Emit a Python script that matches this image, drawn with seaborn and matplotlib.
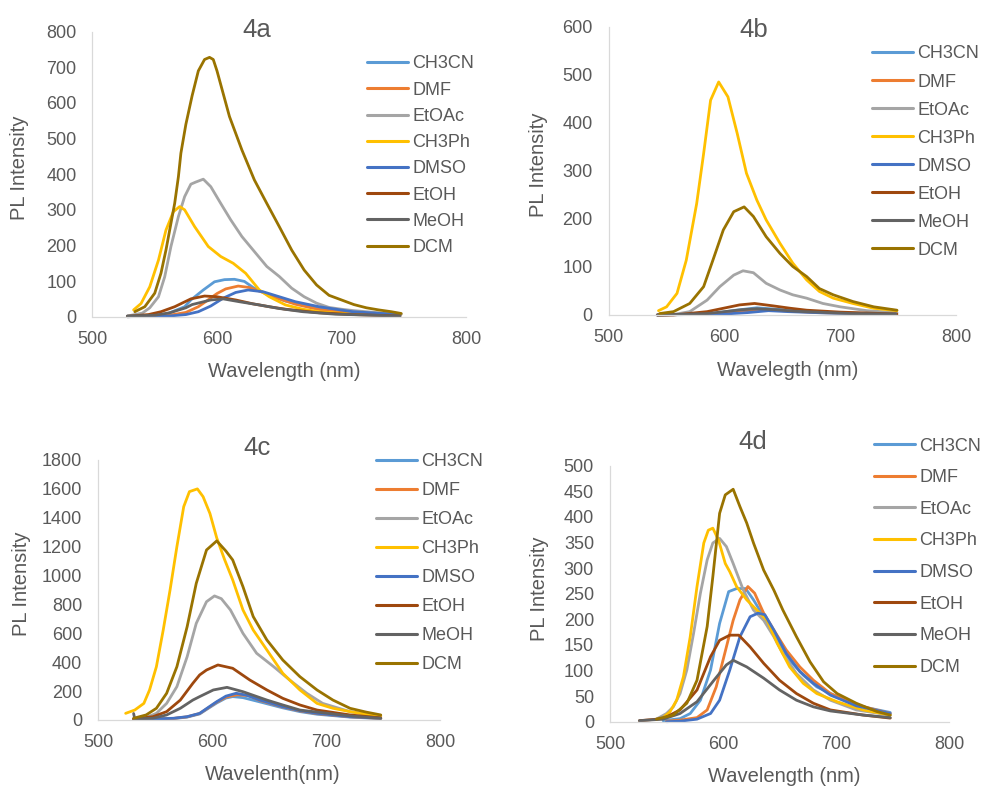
import matplotlib
matplotlib.use("Agg")
import matplotlib.pyplot as plt
import pandas as pd
import seaborn as sns

SOLVENTS = ["CH3CN", "DMF", "EtOAc", "CH3Ph", "DMSO", "EtOH", "MeOH", "DCM"]
COLORS = ["#5B9BD5", "#ED7D31", "#A5A5A5", "#FFC000", "#4472C4", "#9E480E", "#636363", "#997300"]

X_TICKS = [500, 600, 700, 800]

# ---------------- Panel 4a ----------------
A_CH3CN_WL = [528, 545, 560, 574, 579, 589, 598, 606, 614, 622, 629, 642, 655, 669, 682, 695, 709, 735, 747]
A_CH3CN_PL = [0, 2, 8, 28, 47, 75, 98, 104, 105, 99, 82, 60, 44, 33, 23, 17, 11, 6, 5]
A_DMF_WL = [528, 560, 575, 585, 592, 600, 607, 617, 626, 637, 650, 663, 682, 709, 747]
A_DMF_PL = [0, 3, 12, 28, 45, 65, 78, 86, 82, 68, 50, 35, 20, 9, 4]
A_ETOAC_WL = [528, 540, 546, 553, 558, 563, 569, 574, 579, 583, 589, 595, 603, 611, 620, 630, 640, 650, 660, 670, 680, 690, 700, 710, 720, 730, 740, 748]
A_ETOAC_PL = [2, 10, 25, 56, 112, 197, 281, 337, 372, 378, 386, 365, 318, 272, 225, 183, 141, 113, 80, 56, 38, 26, 21, 17, 14, 11, 9, 7]
A_CH3PH_WL = [533, 539, 546, 553, 559, 565, 570, 574, 582, 593, 603, 613, 623, 634, 642, 655, 669, 682, 709, 746]
A_CH3PH_PL = [19, 37, 84, 159, 243, 295, 309, 300, 253, 197, 169, 150, 122, 75, 56, 33, 21, 14, 7, 4]
A_DMSO_WL = [528, 562, 575, 585, 595, 605, 615, 625, 637, 650, 663, 682, 709, 747]
A_DMSO_PL = [0, 2, 6, 14, 30, 52, 68, 75, 70, 56, 42, 28, 14, 6]
A_ETOH_WL = [528, 545, 555, 566, 579, 590, 600, 615, 629, 642, 655, 682, 709, 747]
A_ETOH_PL = [1, 6, 14, 28, 50, 58, 56, 47, 36, 28, 21, 11, 6, 2]
A_MEOH_WL = [528, 550, 562, 575, 580, 595, 605, 618, 634, 650, 669, 695, 747]
A_MEOH_PL = [2, 4, 11, 25, 34, 47, 50, 42, 33, 23, 14, 7, 2]
A_DCM_WL = [534, 542, 550, 555, 559, 563, 566, 569, 571, 575, 580, 585, 590, 594, 597, 600, 610, 620, 630, 640, 650, 660, 670, 680, 690, 700, 710, 720, 730, 740, 748]
A_DCM_PL = [14, 28, 66, 122, 187, 262, 318, 393, 459, 540, 620, 690, 722, 728, 722, 690, 562, 468, 384, 318, 253, 187, 131, 89, 60, 47, 34, 25, 19, 14, 9]

# ---------------- Panel 4b ----------------
B_CH3CN_WL = [542, 590, 610, 628, 645, 665, 690, 748]
B_CH3CN_PL = [0, 3, 10, 15, 12, 8, 5, 2]
B_DMF_WL = [542, 595, 615, 632, 650, 680, 748]
B_DMF_PL = [0, 3, 8, 11, 9, 5, 2]
B_ETOAC_WL = [542, 556, 570, 585, 596, 608, 616, 625, 636, 648, 659, 671, 685, 700, 723, 749]
B_ETOAC_PL = [0, 1, 7, 31, 59, 83, 92, 88, 66, 52, 42, 35, 24, 17, 9, 5]
B_CH3PH_WL = [543, 550, 559, 567, 576, 582, 588, 595, 603, 611, 619, 628, 636, 648, 659, 671, 682, 694, 711, 729, 749]
B_CH3PH_PL = [9, 17, 45, 114, 232, 336, 447, 485, 454, 378, 295, 239, 198, 149, 108, 73, 49, 35, 24, 14, 9]
B_DMSO_WL = [542, 600, 620, 638, 655, 690, 748]
B_DMSO_PL = [0, 2, 5, 9, 7, 4, 2]
B_ETOH_WL = [542, 556, 585, 599, 613, 626, 642, 657, 671, 700, 749]
B_ETOH_PL = [0, 0, 7, 14, 21, 24, 19, 14, 10, 6, 2]
B_MEOH_WL = [542, 585, 600, 615, 628, 645, 660, 680, 710, 748]
B_MEOH_PL = [0, 3, 7, 11, 13, 11, 8, 6, 3, 2]
B_DCM_WL = [544, 556, 570, 582, 590, 599, 608, 617, 625, 636, 648, 659, 671, 682, 694, 711, 729, 749]
B_DCM_PL = [3, 7, 24, 59, 114, 177, 215, 225, 205, 163, 128, 101, 80, 55, 42, 28, 17, 10]

# ---------------- Panel 4c ----------------
C_CH3CN_WL = [531, 551, 566, 578, 589, 598, 604, 612, 618, 627, 642, 662, 677, 692, 721, 748]
C_CH3CN_PL = [3, 6, 10, 20, 42, 88, 118, 152, 162, 155, 125, 84, 58, 40, 20, 10]
C_DMF_WL = [531, 551, 566, 578, 589, 598, 604, 612, 622, 632, 642, 662, 677, 692, 721, 748]
C_DMF_PL = [4, 7, 11, 22, 45, 92, 124, 158, 175, 168, 135, 90, 63, 44, 22, 11]
C_ETOAC_WL = [531, 542, 551, 560, 569, 578, 586, 595, 602, 608, 616, 627, 639, 654, 668, 683, 697, 721, 748]
C_ETOAC_PL = [9, 18, 46, 115, 231, 438, 669, 819, 859, 840, 762, 600, 462, 369, 277, 185, 115, 58, 25]
C_CH3PH_WL = [524, 532, 540, 545, 551, 557, 563, 569, 575, 580, 587, 592, 598, 604, 611, 618, 627, 636, 648, 662, 677, 692, 706, 721, 735, 748]
C_CH3PH_PL = [46, 69, 115, 208, 369, 623, 900, 1200, 1477, 1581, 1600, 1546, 1430, 1260, 1108, 970, 762, 623, 485, 323, 208, 115, 81, 58, 40, 30]
C_DMSO_WL = [531, 551, 566, 578, 589, 598, 604, 612, 621, 630, 642, 662, 677, 692, 721, 748]
C_DMSO_PL = [5, 8, 12, 23, 46, 95, 127, 165, 185, 172, 138, 92, 65, 46, 23, 12]
C_ETOH_WL = [531, 548, 560, 572, 583, 589, 595, 605, 618, 633, 648, 662, 677, 692, 721, 748]
C_ETOH_PL = [7, 23, 58, 138, 254, 312, 346, 381, 358, 277, 208, 150, 104, 69, 35, 15]
C_MEOH_WL = [531, 532, 548, 560, 572, 583, 589, 601, 613, 627, 648, 662, 677, 706, 721, 748]
C_MEOH_PL = [45, 8, 12, 35, 81, 138, 162, 208, 226, 196, 138, 104, 69, 42, 28, 12]
C_DCM_WL = [531, 542, 551, 560, 569, 578, 586, 595, 604, 612, 618, 627, 636, 648, 662, 677, 692, 706, 721, 735, 748]
C_DCM_PL = [12, 35, 81, 185, 369, 646, 946, 1177, 1240, 1170, 1108, 923, 716, 554, 415, 300, 208, 138, 81, 55, 35]

# ---------------- Panel 4d ----------------
D_CH3CN_WL = [547, 562, 571, 580, 589, 597, 605, 612, 620, 627, 636, 648, 659, 671, 683, 701, 724, 748]
D_CH3CN_PL = [2, 6, 16, 42, 101, 192, 254, 260, 260, 238, 205, 159, 120, 91, 68, 49, 29, 18]
D_DMF_WL = [550, 562, 577, 586, 594, 603, 609, 615, 622, 628, 636, 645, 656, 668, 680, 695, 718, 748]
D_DMF_PL = [1, 3, 8, 23, 68, 146, 198, 238, 264, 251, 212, 179, 140, 107, 81, 55, 33, 16]
D_ETOAC_WL = [541, 550, 556, 562, 568, 574, 580, 586, 591, 597, 603, 609, 618, 627, 636, 645, 653, 665, 680, 695, 718, 748]
D_ETOAC_PL = [5, 16, 29, 55, 101, 173, 251, 316, 349, 358, 342, 309, 257, 218, 198, 166, 133, 94, 62, 42, 23, 13]
D_CH3PH_WL = [548, 553, 559, 565, 571, 577, 583, 587, 591, 596, 602, 606, 612, 621, 630, 639, 648, 659, 671, 683, 701, 724, 748]
D_CH3PH_PL = [10, 19, 42, 88, 166, 264, 349, 374, 378, 355, 309, 293, 264, 238, 218, 198, 153, 107, 75, 55, 39, 23, 13]
D_DMSO_WL = [550, 562, 577, 589, 597, 606, 615, 624, 631, 637, 645, 656, 668, 680, 695, 718, 748]
D_DMSO_PL = [0, 1, 5, 16, 42, 101, 166, 205, 212, 209, 179, 133, 98, 75, 52, 31, 16]
D_ETOH_WL = [526, 547, 562, 577, 589, 597, 606, 614, 624, 636, 650, 665, 680, 695, 724, 748]
D_ETOH_PL = [2, 6, 23, 62, 127, 159, 169, 169, 146, 114, 81, 55, 36, 23, 13, 7]
D_MEOH_WL = [526, 547, 562, 577, 592, 603, 609, 621, 636, 650, 665, 680, 695, 724, 748]
D_MEOH_PL = [2, 5, 16, 39, 81, 111, 120, 107, 85, 62, 42, 29, 21, 13, 8]
D_DCM_WL = [541, 556, 568, 577, 586, 591, 597, 602, 609, 615, 621, 627, 636, 645, 653, 665, 677, 689, 701, 718, 736, 748]
D_DCM_PL = [5, 13, 36, 81, 186, 283, 407, 443, 454, 420, 388, 349, 296, 257, 218, 166, 117, 78, 55, 36, 20, 13]

PANELS = [
    dict(title="4a", xlabel="Wavelength (nm)", ymax=800, ystep=100,
         series=[(A_CH3CN_WL, A_CH3CN_PL), (A_DMF_WL, A_DMF_PL), (A_ETOAC_WL, A_ETOAC_PL),
                 (A_CH3PH_WL, A_CH3PH_PL), (A_DMSO_WL, A_DMSO_PL), (A_ETOH_WL, A_ETOH_PL),
                 (A_MEOH_WL, A_MEOH_PL), (A_DCM_WL, A_DCM_PL)],
         box=(92.5, 31.7, 466, 316.7), title_xy=(256.7, 36.7),
         ylab=(-0.196, 0.522), xlab=(0.513, -0.194), leg=(367, 65), lspace=0.51),
    dict(title="4b", xlabel="Wavelegth (nm)", ymax=600, ystep=100,
         series=[(B_CH3CN_WL, B_CH3CN_PL), (B_DMF_WL, B_DMF_PL), (B_ETOAC_WL, B_ETOAC_PL),
                 (B_CH3PH_WL, B_CH3PH_PL), (B_DMSO_WL, B_DMSO_PL), (B_ETOH_WL, B_ETOH_PL),
                 (B_MEOH_WL, B_MEOH_PL), (B_DCM_WL, B_DCM_PL)],
         box=(608.7, 26.7, 956, 315), title_xy=(753.3, 36.7),
         ylab=(-0.2007, 0.520), xlab=(0.516, -0.191), leg=(872, 55), lspace=0.61),
    dict(title="4c", xlabel="Wavelenth(nm)", ymax=1800, ystep=200,
         series=[(C_CH3CN_WL, C_CH3CN_PL), (C_DMF_WL, C_DMF_PL), (C_ETOAC_WL, C_ETOAC_PL),
                 (C_CH3PH_WL, C_CH3PH_PL), (C_DMSO_WL, C_DMSO_PL), (C_ETOH_WL, C_ETOH_PL),
                 (C_MEOH_WL, C_MEOH_PL), (C_DCM_WL, C_DCM_PL)],
         box=(98.3, 460, 440, 720), title_xy=(257.3, 455),
         ylab=(-0.226, 0.523), xlab=(0.51, -0.2115), leg=(376, 463), lspace=0.66),
    dict(title="4d", xlabel="Wavelength (nm)", ymax=500, ystep=50,
         series=[(D_CH3CN_WL, D_CH3CN_PL), (D_DMF_WL, D_DMF_PL), (D_ETOAC_WL, D_ETOAC_PL),
                 (D_CH3PH_WL, D_CH3PH_PL), (D_DMSO_WL, D_DMSO_PL), (D_ETOH_WL, D_ETOH_PL),
                 (D_MEOH_WL, D_MEOH_PL), (D_DCM_WL, D_DCM_PL)],
         box=(610, 465.7, 949, 721.7), title_xy=(752.7, 449.3),
         ylab=(-0.2086, 0.521), xlab=(0.513, -0.216), leg=(874, 447), lspace=0.81),
]

sns.set_theme(style="white")
plt.rcParams["font.family"] = ["Liberation Sans", "DejaVu Sans"]
TEXT = "#595959"
SPINE = "#D9D9D9"

W, H = 987, 788
fig = plt.figure(figsize=(W / 100, H / 100), dpi=100)
fig.patch.set_facecolor("white")

for p in PANELS:
    l, t, r, b = p["box"]
    ax = fig.add_axes([l / W, 1 - b / H, (r - l) / W, (b - t) / H])
    frames = []
    for name, (wl, pl) in zip(SOLVENTS, p["series"]):
        frames.append(pd.DataFrame({"wavelength": wl, "intensity": pl, "solvent": name}))
    df = pd.concat(frames, ignore_index=True)
    sns.lineplot(data=df, x="wavelength", y="intensity", hue="solvent",
                 hue_order=SOLVENTS, palette=COLORS, estimator=None, errorbar=None,
                 linewidth=2.0, legend=False, ax=ax)
    for ln in ax.get_lines():
        ln.set_solid_capstyle("round")
        ln.set_solid_joinstyle("round")
        ln.set_clip_on(False)
    ax.set_xlim(500, 800)
    ax.set_ylim(0, p["ymax"])
    ax.set_xticks(X_TICKS)
    ax.set_yticks(range(0, p["ymax"] + 1, p["ystep"]))
    ax.set_facecolor("none")
    for s in ["top", "right"]:
        ax.spines[s].set_visible(False)
    for s in ["left", "bottom"]:
        ax.spines[s].set_color(SPINE)
        ax.spines[s].set_linewidth(0.9)
    ax.tick_params(axis="both", length=0, labelsize=13, labelcolor=TEXT)
    ax.tick_params(axis="y", pad=11.5)
    ax.tick_params(axis="x", pad=10)
    ax.set_xlabel(p["xlabel"], fontsize=14.5, color=TEXT)
    ax.set_ylabel("PL Intensity", fontsize=14.5, color=TEXT)
    ax.xaxis.set_label_coords(*p["xlab"])
    ax.yaxis.set_label_coords(*p["ylab"])
    ax.xaxis.label.set_verticalalignment("center")
    ax.yaxis.label.set_verticalalignment("center")
    fig.text(p["title_xy"][0] / W, 1 - p["title_xy"][1] / H, p["title"],
             fontsize=18.5, color=TEXT, ha="center", va="baseline")
    lx, ly = p["leg"]
    leg = ax.legend(ax.get_lines(), SOLVENTS, loc="upper left",
                    bbox_to_anchor=(lx / W, 1 - (ly - 9.5) / H),
                    bbox_transform=fig.transFigure, frameon=False,
                    fontsize=13, handlelength=2.27, handletextpad=0.25,
                    labelspacing=p["lspace"], borderpad=0, borderaxespad=0)
    for txt in leg.get_texts():
        txt.set_color(TEXT)
    for h in leg.get_lines():
        h.set_linewidth(2.2)

fig.savefig("out.png", dpi=100, facecolor="white")
